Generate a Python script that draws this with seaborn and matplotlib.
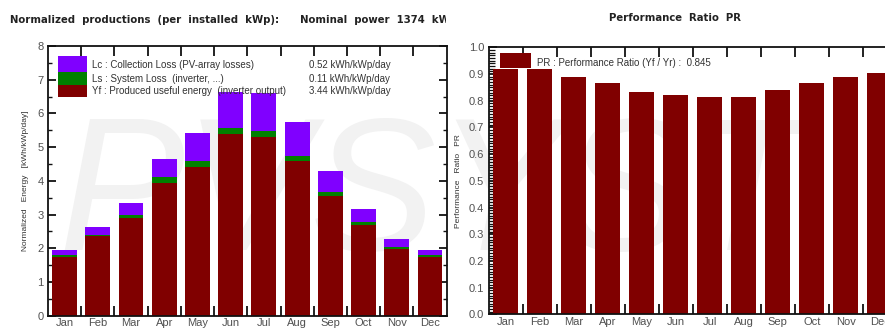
import matplotlib
matplotlib.use("Agg")
import matplotlib.pyplot as plt
import numpy as np
import pandas as pd
import seaborn as sns
from matplotlib.patches import Rectangle
from matplotlib.ticker import MultipleLocator, FixedLocator, FormatStrFormatter
from matplotlib.transforms import Bbox, TransformedBbox

# ---- data -------------------------------------------------------------
months = ["Jan", "Feb", "Mar", "Apr", "May", "Jun",
          "Jul", "Aug", "Sep", "Oct", "Nov", "Dec"]
yf = [1.74, 2.35, 2.89, 3.93, 4.42, 5.38, 5.31, 4.59, 3.56, 2.68, 1.98, 1.74]
ls = [0.05, 0.05, 0.11, 0.17, 0.17, 0.18, 0.18, 0.16, 0.11, 0.09, 0.05, 0.05]
lc = [0.17, 0.22, 0.33, 0.54, 0.84, 1.08, 1.12, 1.01, 0.62, 0.39, 0.24, 0.17]
pr = [0.92, 0.92, 0.89, 0.865, 0.832, 0.823, 0.813, 0.813, 0.84, 0.865, 0.89, 0.905]

legend_labels = ["Lc : Collection Loss (PV-array losses)",
                 "Ls : System Loss  (inverter, ...)",
                 "Yf : Produced useful energy  (inverter output)"]
legend_values = ["0.52 kWh/kWp/day", "0.11 kWh/kWp/day", "3.44 kWh/kWp/day"]
pr_label = "PR : Performance Ratio (Yf / Yr) :  0.845"

title_left = "Normalized  productions  (per  installed  kWp):      Nominal  power  1374  kWp"
title_right = "Performance  Ratio  PR"
watermark = "PVSYST"

c_lc, c_ls, c_yf = "#8000ff", "#008000", "#800000"
tick_gray = "#505050"
text_gray = "#333333"

# ---- style ------------------------------------------------------------
sns.set_theme(style="white")
plt.rcParams["font.family"] = ["Liberation Sans", "DejaVu Sans"]

W, H = 885, 329
fig = plt.figure(figsize=(W / 100, H / 100), dpi=100)
fig.patch.set_facecolor("white")

ax1 = fig.add_axes([48 / W, (H - 315.7) / H, 398.6 / W, 269.7 / H])
ax2 = fig.add_axes([488.5 / W, (H - 314.3) / H, 408.4 / W, 267.0 / H])
for ax in (ax1, ax2):
    ax.patch.set_alpha(0)

# faint background watermark
fig.text(58 / W, (H - 250) / H, watermark, fontsize=136, style="italic",
         color="#f2f2f2", zorder=-5, ha="left", va="baseline")

# ---- left: normalized productions (stacked) ----------------------------
df = pd.DataFrame({"month": months, "yf": yf, "ls": ls, "lc": lc})
df["yf_ls"] = df["yf"] + df["ls"]
df["total"] = df["yf_ls"] + df["lc"]

for col, color in [("total", c_lc), ("yf_ls", c_ls), ("yf", c_yf)]:
    sns.barplot(data=df, x="month", y=col, color=color, saturation=1,
                width=0.75, errorbar=None, edgecolor="none", linewidth=0, ax=ax1)

ax1.set_xlim(-0.5, 11.5)
ax1.set_ylim(0, 8)
ax1.set_xlabel("")
ax1.set_ylabel("Normalized   Energy   [kWh/kWp/day]", fontsize=6, color=text_gray, labelpad=6)
ax1.yaxis.set_major_locator(MultipleLocator(1))
ax1.yaxis.set_minor_locator(MultipleLocator(0.5))
ax1.xaxis.set_minor_locator(FixedLocator(np.arange(0.5, 11, 1.0)))

# legend block inside the plot
sw_x, sw_w = 0.025, 0.073
sw_rows = [(0.903, 0.963, c_lc), (0.855, 0.903, c_ls), (0.811, 0.855, c_yf)]
for y0, y1, color in sw_rows:
    ax1.add_patch(Rectangle((sw_x, y0), sw_w, y1 - y0, transform=ax1.transAxes,
                            facecolor=color, edgecolor="none", zorder=5))
for ty, lab, val in zip([0.929, 0.878, 0.833], legend_labels, legend_values):
    ax1.text(0.110, ty, lab, transform=ax1.transAxes, fontsize=7, color=text_gray,
             va="center", ha="left", zorder=6)
    ax1.text(0.655, ty, val, transform=ax1.transAxes, fontsize=7, color=text_gray,
             va="center", ha="left", zorder=6)

# ---- right: performance ratio ------------------------------------------
dpr = pd.DataFrame({"month": months, "pr": pr})
sns.barplot(data=dpr, x="month", y="pr", color=c_yf, saturation=1, width=0.74,
            errorbar=None, edgecolor="none", linewidth=0, ax=ax2)
ax2.set_xlim(-0.5, 11.5)
ax2.set_ylim(0, 1.0)
ax2.set_xlabel("")
ax2.set_ylabel("Performance   Ratio   PR", fontsize=6, color=text_gray, labelpad=5)
ax2.yaxis.set_major_locator(MultipleLocator(0.1))
ax2.yaxis.set_minor_locator(MultipleLocator(0.01))
ax2.yaxis.set_major_formatter(FormatStrFormatter("%.1f"))
ax2.xaxis.set_minor_locator(FixedLocator(np.arange(0.5, 11, 1.0)))

ax2.add_patch(Rectangle((0.028, 0.922), 0.075, 0.057, transform=ax2.transAxes,
                        facecolor=c_yf, edgecolor="none", zorder=5))
ax2.text(0.119, 0.942, pr_label, transform=ax2.transAxes, fontsize=7,
         color=text_gray, va="center", ha="left", zorder=6)

# ---- axes frames and ticks ---------------------------------------------
for ax in (ax1, ax2):
    for sp in ax.spines.values():
        sp.set_color("#111111")
        sp.set_linewidth(1.3)
        sp.set_visible(True)
    ax.tick_params(axis="x", which="major", length=0, labelsize=8,
                   labelcolor=tick_gray, pad=2)
    ax.tick_params(axis="x", which="minor", direction="in", length=7, width=1.3,
                   color="#111111", top=True, bottom=True)
    ax.tick_params(axis="y", which="major", direction="in", length=6, width=1.3,
                   color="#111111", labelsize=8, labelcolor=tick_gray, pad=3)
    ax.tick_params(axis="y", which="minor", direction="in", length=3, width=1.0,
                   color="#111111")

ax1.tick_params(axis="y", which="both", left=True, right=True)
ax2.tick_params(axis="y", which="both", left=True, right=False)
ax2.tick_params(axis="y", which="minor", length=4, width=0.9)

# ---- titles ---------------------------------------------------------------
t1 = fig.text(10 / W, (H - 20) / H, title_left, fontsize=7.3, fontweight="bold",
              family="DejaVu Sans", color="#222222", ha="left", va="center")
t1.set_clip_box(TransformedBbox(Bbox([[0, 0], [446 / W, 1]]), fig.transFigure))
t1.set_clip_on(True)
fig.text(675 / W, (H - 18) / H, title_right, fontsize=7.3, fontweight="bold",
         family="DejaVu Sans", color="#222222", ha="center", va="center")

fig.savefig("out.png", dpi=100)
